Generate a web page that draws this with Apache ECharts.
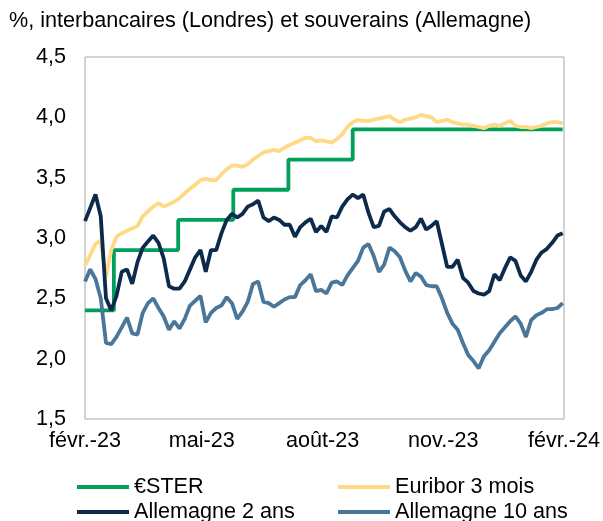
<!DOCTYPE html>
<html>
<head>
<meta charset="utf-8">
<title>Taux interbancaires et souverains</title>
<script src="https://cdn.jsdelivr.net/npm/echarts@6.0.0/dist/echarts.min.js"></script>
<style>
  html, body { margin: 0; padding: 0; background: #fff; }
  #chart { width: 603px; height: 521px; }
</style>
</head>
<body>
<div id="chart"></div>
<script>
// Observation dates (every 4 days), shared by the three market series
const dates = [
  "2023-02-28","2023-03-04","2023-03-08","2023-03-12","2023-03-16","2023-03-20","2023-03-24","2023-03-28",
  "2023-04-01","2023-04-05","2023-04-09","2023-04-13","2023-04-17","2023-04-21","2023-04-25","2023-04-29",
  "2023-05-03","2023-05-07","2023-05-11","2023-05-15","2023-05-19","2023-05-23","2023-05-27","2023-05-31",
  "2023-06-04","2023-06-08","2023-06-12","2023-06-16","2023-06-20","2023-06-24","2023-06-28","2023-07-02",
  "2023-07-06","2023-07-10","2023-07-14","2023-07-18","2023-07-22","2023-07-26","2023-07-30","2023-08-03",
  "2023-08-07","2023-08-11","2023-08-15","2023-08-19","2023-08-23","2023-08-27","2023-08-31","2023-09-04",
  "2023-09-08","2023-09-12","2023-09-16","2023-09-20","2023-09-24","2023-09-28","2023-10-02","2023-10-06",
  "2023-10-10","2023-10-14","2023-10-18","2023-10-22","2023-10-26","2023-10-30","2023-11-03","2023-11-07",
  "2023-11-11","2023-11-15","2023-11-19","2023-11-23","2023-11-27","2023-12-01","2023-12-05","2023-12-09",
  "2023-12-13","2023-12-17","2023-12-21","2023-12-25","2023-12-29","2024-01-02","2024-01-06","2024-01-10",
  "2024-01-14","2024-01-18","2024-01-22","2024-01-26","2024-01-30","2024-02-03","2024-02-07","2024-02-11",
  "2024-02-15","2024-02-19","2024-02-23","2024-02-27"
];

const euribor3m = [
  2.77,2.86,2.95,2.98,2.68,2.90,3.01,3.04,3.06,3.08,3.10,3.18,3.22,3.26,3.29,3.26,
  3.28,3.30,3.33,3.37,3.41,3.44,3.48,3.49,3.48,3.48,3.53,3.57,3.60,3.60,3.59,3.61,
  3.65,3.68,3.71,3.72,3.73,3.72,3.75,3.77,3.79,3.81,3.83,3.83,3.80,3.81,3.80,3.79,
  3.82,3.86,3.92,3.96,3.98,3.97,3.97,3.98,3.99,4.00,4.01,3.98,3.96,3.98,3.99,4.00,
  4.02,4.01,4.00,3.96,3.97,3.98,3.96,3.95,3.94,3.94,3.93,3.92,3.91,3.93,3.94,3.93,
  3.95,3.97,3.93,3.92,3.92,3.91,3.92,3.93,3.95,3.96,3.96,3.95
];

const bund2y = [
  3.14,3.25,3.36,3.18,2.50,2.40,2.52,2.72,2.74,2.62,2.80,2.92,2.97,3.02,2.96,2.83,
  2.60,2.58,2.58,2.64,2.74,2.84,2.90,2.72,2.90,2.90,3.04,3.15,3.20,3.17,3.20,3.26,
  3.28,3.31,3.17,3.14,3.17,3.15,3.11,3.11,3.01,3.09,3.13,3.16,3.05,3.10,3.05,3.18,
  3.17,3.26,3.32,3.36,3.33,3.36,3.21,3.09,3.10,3.22,3.24,3.18,3.13,3.09,3.06,3.09,
  3.16,3.07,3.10,3.14,2.95,2.76,2.76,2.82,2.67,2.63,2.56,2.54,2.53,2.56,2.70,2.65,
  2.75,2.84,2.81,2.69,2.64,2.72,2.82,2.88,2.91,2.96,3.02,3.04
];

const bund10y = [
  2.64,2.74,2.66,2.50,2.13,2.12,2.18,2.26,2.34,2.21,2.20,2.38,2.46,2.50,2.42,2.35,
  2.24,2.31,2.25,2.33,2.44,2.48,2.52,2.30,2.38,2.42,2.44,2.51,2.46,2.33,2.39,2.47,
  2.62,2.64,2.47,2.46,2.43,2.46,2.49,2.51,2.51,2.61,2.65,2.70,2.56,2.57,2.54,2.63,
  2.64,2.61,2.69,2.75,2.81,2.92,2.95,2.85,2.72,2.78,2.92,2.89,2.84,2.73,2.64,2.71,
  2.68,2.61,2.60,2.60,2.50,2.38,2.29,2.24,2.13,2.03,1.98,1.92,2.02,2.07,2.14,2.21,
  2.26,2.31,2.35,2.29,2.18,2.32,2.36,2.38,2.41,2.41,2.42,2.46
];

// €STR only moves on ECB rate changes
const estrDates  = ["2023-02-28","2023-03-22","2023-05-10","2023-06-21","2023-08-02","2023-09-20","2024-02-27"];
const estrValues = [2.40, 2.90, 3.15, 3.40, 3.65, 3.90, 3.90];

const xTickDates  = ["2023-02-28","2023-05-28","2023-08-28","2023-11-28","2024-02-28"];
const xTickLabels = ["févr.-23","mai-23","août-23","nov.-23","févr.-24"];

const FONT = "Liberation Sans, Arial, sans-serif";
const FS = 21.6;
const COLORS = { estr: "#00A05A", euribor: "#FFD985", y2: "#0B2A4C", y10: "#4A7699" };

// dates -> day count from the first tick (value axis; time axis can't take custom ticks)
const DAY = 86400000;
const t0 = Date.UTC(2023, 1, 28);
const dayOf = s => { const [y, m, d] = s.split("-").map(Number); return Math.round((Date.UTC(y, m - 1, d) - t0) / DAY); };
const pairs = (xs, ys) => xs.map((x, i) => [dayOf(x), ys[i]]);
const tickValues = xTickDates.map(dayOf);

const line = (name, data, color, extra) => Object.assign({
  name, type: "line", data, showSymbol: false, symbol: "none",
  lineStyle: { color, width: 3.8 }, itemStyle: { color },
}, extra);

const legendCommon = {
  orient: "vertical", icon: "rect", itemWidth: 52, itemHeight: 4, itemGap: 3,
  padding: 0, height: 60,
  textStyle: { fontFamily: FONT, fontSize: FS, color: "#000", lineHeight: 22 },
  top: 476, selectedMode: false,
};

const chart = echarts.init(document.getElementById("chart"), null, { renderer: "canvas" });
chart.setOption({
  animation: false,
  backgroundColor: "#fff",
  textStyle: { fontFamily: FONT },
  title: {
    text: "%, interbancaires (Londres) et souverains (Allemagne)",
    left: 9, top: 10, padding: 0,
    textStyle: { fontFamily: FONT, fontSize: FS, fontWeight: "normal", color: "#000" },
  },
  legend: [
    Object.assign({ left: 77, data: ["€STER", "Allemagne 2 ans"] }, legendCommon),
    Object.assign({ left: 338, data: ["Euribor 3 mois", "Allemagne 10 ans"] }, legendCommon),
  ],
  grid: {
    left: 85, right: 38, top: 57, bottom: 102,
    show: true, borderColor: "#A6A6A6", borderWidth: 1,
  },
  xAxis: {
    type: "value",
    min: tickValues[0], max: tickValues[tickValues.length - 1],
    axisLine: { show: false }, axisTick: { show: false }, splitLine: { show: false },
    axisLabel: {
      customValues: tickValues,
      fontFamily: FONT, fontSize: FS, color: "#000", margin: 11, hideOverlap: false,
      formatter: v => xTickLabels[tickValues.indexOf(v)] ?? "",
    },
  },
  yAxis: {
    type: "value", min: 1.5, max: 4.5, interval: 0.5,
    axisLine: { show: false }, axisTick: { show: false }, splitLine: { show: false },
    axisLabel: {
      fontFamily: FONT, fontSize: FS, color: "#000", margin: 19,
      formatter: v => v.toFixed(1).replace(".", ","),
    },
  },
  series: [
    line("€STER", pairs(estrDates, estrValues), COLORS.estr, { step: "end" }),
    line("Euribor 3 mois", pairs(dates, euribor3m), COLORS.euribor),
    line("Allemagne 2 ans", pairs(dates, bund2y), COLORS.y2),
    line("Allemagne 10 ans", pairs(dates, bund10y), COLORS.y10),
  ],
});
</script>
</body>
</html>
